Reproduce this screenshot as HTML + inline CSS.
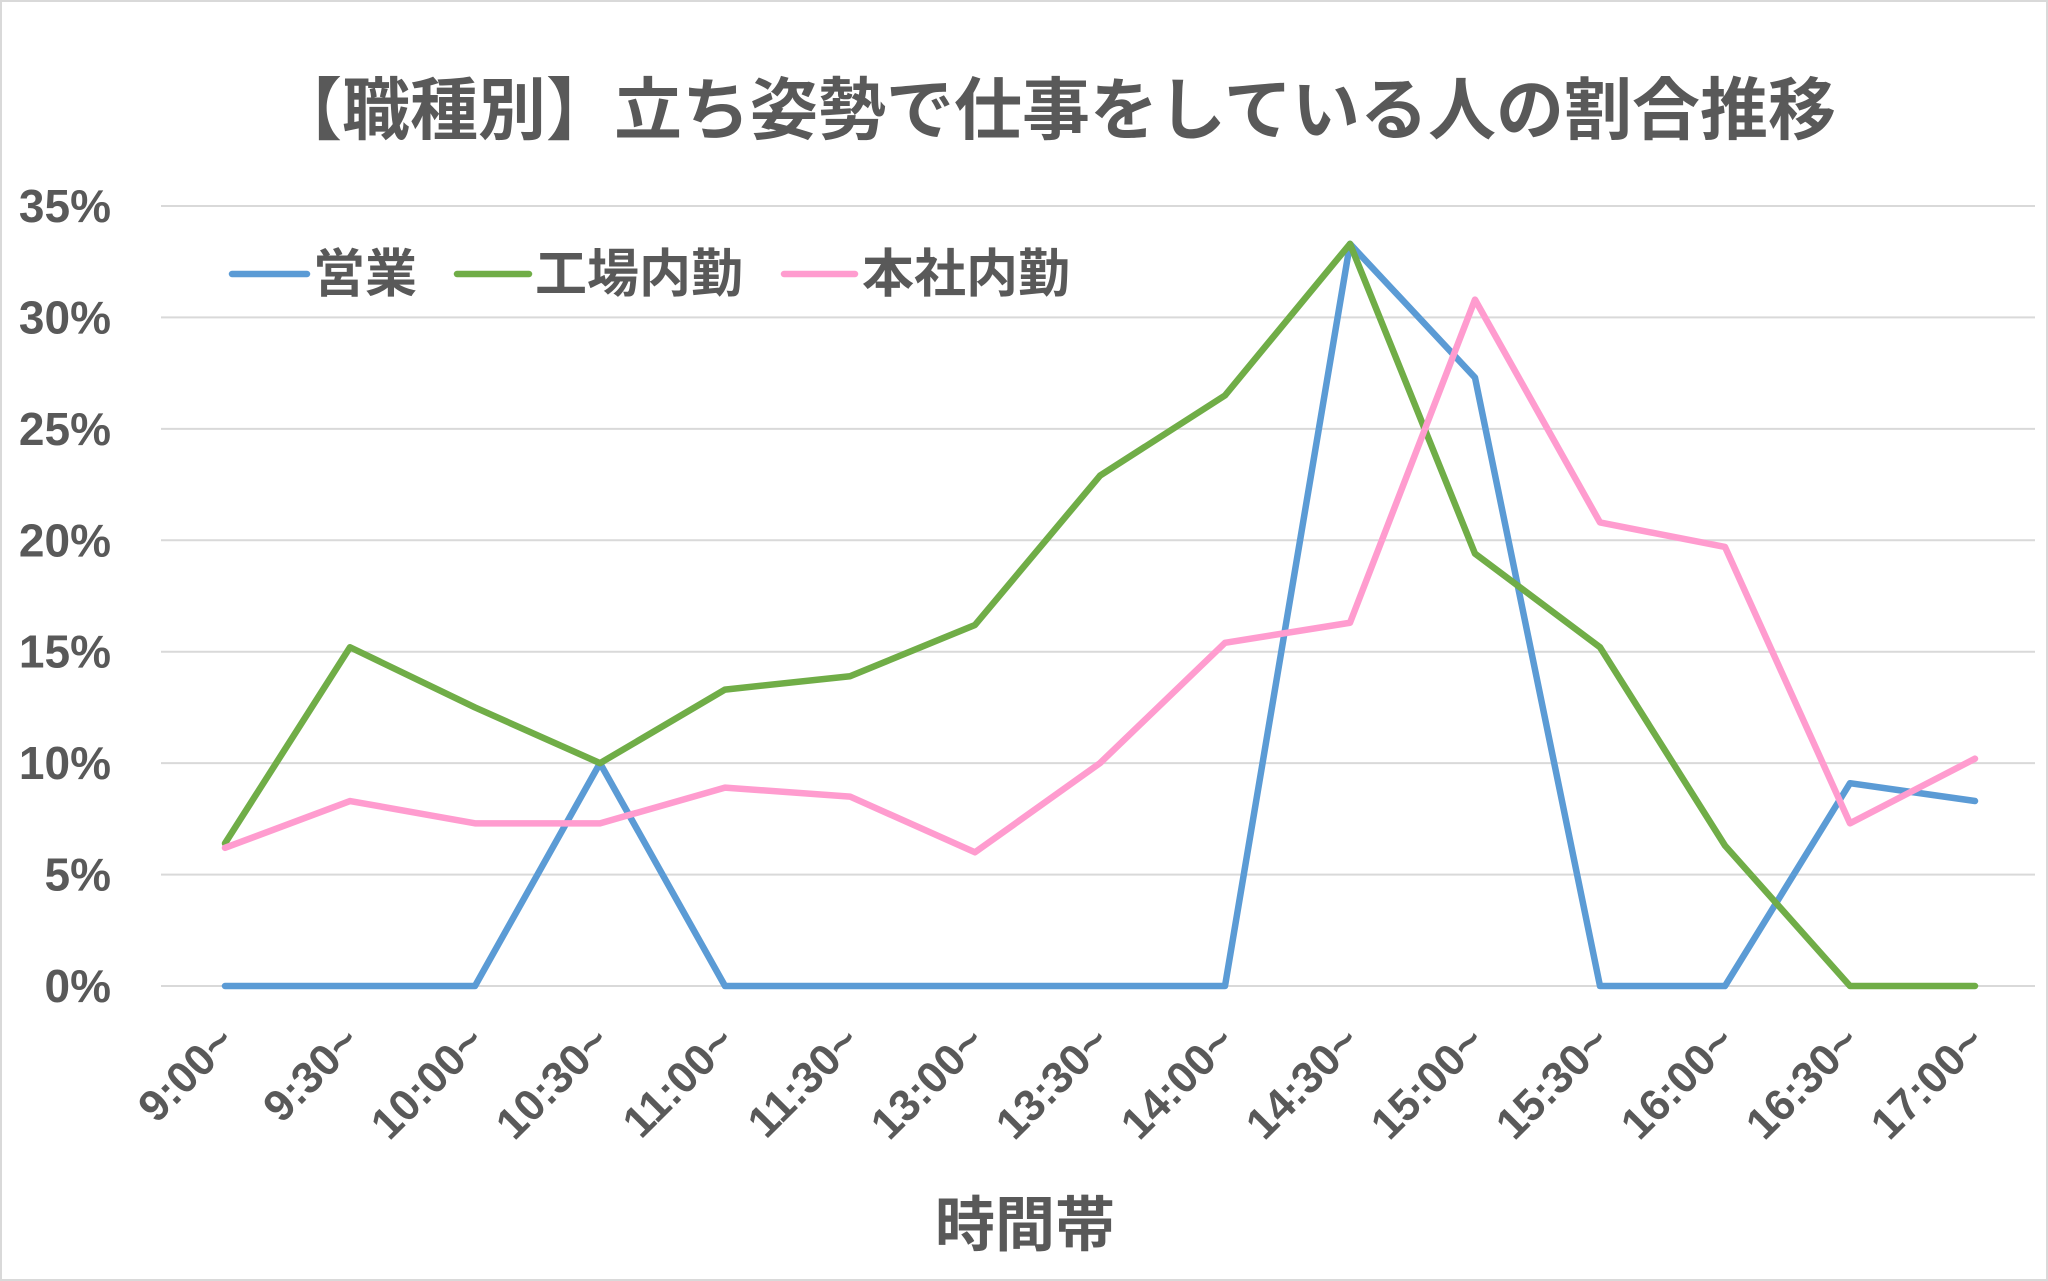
<!DOCTYPE html>
<html><head><meta charset="utf-8"><style>
html,body{margin:0;padding:0;background:#fff}
svg{display:block}
text{font-family:"Liberation Sans","Noto Sans CJK JP",sans-serif;fill:#595959;font-weight:bold}
</style></head><body>
<svg id="chart" width="2048" height="1281" viewBox="0 0 2048 1281" xmlns="http://www.w3.org/2000/svg">
<rect x="1" y="1" width="2046" height="1279" fill="#fff" stroke="#d9d9d9" stroke-width="2"/>
<text x="1055" y="134" font-size="68" text-anchor="middle">【職種別】立ち姿勢で仕事をしている人の割合推移</text>
<g id="grid"></g><g id="yticks"></g><g id="xticks"></g><g id="series"></g>
<text x="1025" y="1246" font-size="60" text-anchor="middle">時間帯</text>
<g>
<line x1="232" y1="274" x2="307" y2="274" stroke="#5b9bd5" stroke-width="6.5" stroke-linecap="round"/>
<text x="313" y="292" font-size="52">営業</text>
<line x1="457" y1="274" x2="529" y2="274" stroke="#70ad47" stroke-width="6.5" stroke-linecap="round"/>
<text x="535" y="292" font-size="52">工場内勤</text>
<line x1="784" y1="274" x2="855" y2="274" stroke="#ff9ccf" stroke-width="6.5" stroke-linecap="round"/>
<text x="862" y="292" font-size="52">本社内勤</text>
</g>
</svg>
<script>
const categories = ["9:00~","9:30~","10:00~","10:30~","11:00~","11:30~","13:00~","13:30~","14:00~","14:30~","15:00~","15:30~","16:00~","16:30~","17:00~"];
const eigyo = [0,0,0,10,0,0,0,0,0,33.3,27.3,0,0,9.1,8.3];
const factory = [6.4,15.2,12.5,10,13.3,13.9,16.2,22.9,26.5,33.3,19.4,15.2,6.3,0,0];
const office = [6.2,8.3,7.3,7.3,8.9,8.5,6.0,10,15.4,16.3,30.8,20.8,19.7,7.3,10.2];
const yTicks = [0,5,10,15,20,25,30,35];

const NS="http://www.w3.org/2000/svg";
const X0=225,X1=1975,Y0=986,Y35=206,GL=161,GR=2035;
function xs(i){return X0+(X1-X0)*i/(categories.length-1);}
function ys(v){return Y0+(Y35-Y0)*v/35;}
function mk(tag,attrs,parent){const e=document.createElementNS(NS,tag);for(const k in attrs)e.setAttribute(k,attrs[k]);parent.appendChild(e);return e;}
const grid=document.getElementById('grid'),yt=document.getElementById('yticks'),xt=document.getElementById('xticks'),ser=document.getElementById('series');
yTicks.forEach(v=>{
  const l=mk('line',{x1:GL,x2:GR,y1:ys(v),y2:ys(v),stroke:'#d9d9d9','stroke-width':2},grid);
  
  
  const t=mk('text',{x:111,y:ys(v)+16,'font-size':46,'text-anchor':'end'},yt);
  t.textContent=v+'%';
  
  
});
categories.forEach((c,i)=>{
  const x=xs(i)+12,y=1044;
  const t=mk('text',{x:x,y:y,'font-size':44,'text-anchor':'end',transform:`rotate(-45 ${x} ${y})`},xt);
  t.textContent=c;
  
  
});
[[eigyo,'#5b9bd5','series-eigyo'],[factory,'#70ad47','series-factory'],[office,'#ff9ccf','series-office']].forEach(([d,col,n])=>{
  const p=mk('polyline',{points:d.map((v,i)=>xs(i)+','+ys(v)).join(' '),fill:'none',stroke:col,'stroke-width':6.5,'stroke-linejoin':'round','stroke-linecap':'round'},ser);
  
  
});
</script>
</body></html>
